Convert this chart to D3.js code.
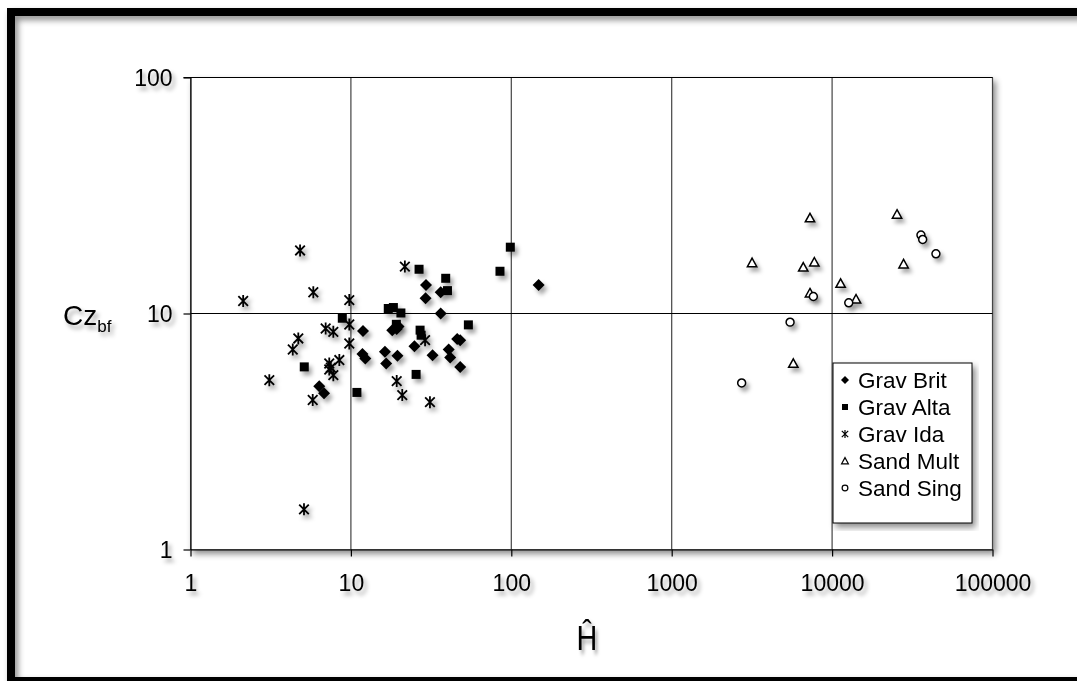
<!DOCTYPE html>
<html lang="en">
<head>
<meta charset="UTF-8">
<title>Cz_bf vs H</title>
<script src="https://cdn.jsdelivr.net/npm/d3@7"></script>
<style>
  body { margin: 0; background: #fff; }
  text { font-family: "Liberation Sans", Arial, sans-serif; fill: #000; }
</style>
</head>
<body>
<script>
// ---- data ----
const xTicks = [1, 10, 100, 1000, 10000, 100000];
const yTicks = [1, 10, 100];

const seriesNames = ["Grav Brit", "Grav Alta", "Grav Ida", "Sand Mult", "Sand Sing"];

const gravBrit = [
  [148, 13.2], [29.4, 13.2], [29.2, 11.6], [36.3, 12.3], [36.3, 10.0],
  [11.9, 8.44], [18.1, 8.5], [19.3, 8.6], [19.8, 8.8], [11.8, 6.73],
  [12.3, 6.45], [16.3, 6.88], [16.6, 6.14], [19.5, 6.62], [24.9, 7.27],
  [32.3, 6.66], [40.7, 7.04], [41.6, 6.51], [46, 7.79], [48, 7.7],
  [48, 5.94], [6.35, 4.92], [6.8, 4.59]
];
const gravAlta = [
  [98.6, 19.1], [85, 15.1], [26.6, 15.4], [39, 14.1], [40, 12.5],
  [17.1, 10.5], [18.4, 10.6], [20.5, 10.05], [8.84, 9.55], [19.2, 9.0],
  [27, 8.5], [27.4, 8.09], [54, 8.95], [25.5, 5.52], [10.9, 4.63],
  [5.12, 5.94]
];
const gravIda = [
  [4.82, 18.5], [2.13, 11.3], [5.83, 12.3], [9.77, 11.4], [9.77, 8.98],
  [9.77, 7.46], [6.96, 8.64], [7.77, 8.36], [4.7, 7.84], [4.34, 7.04],
  [8.47, 6.35], [7.33, 6.14], [7.33, 5.79], [7.77, 5.48], [3.1, 5.22],
  [5.78, 4.3], [21.7, 15.8], [29, 7.71], [19.3, 5.17], [20.9, 4.51],
  [31.1, 4.21], [5.1, 1.48], [7.5, 5.9]
];
const sandMult = [
  [7280, 25.4], [3170, 16.4], [6610, 15.7], [7750, 16.5], [7280, 12.2],
  [11300, 13.4], [14100, 11.5], [25400, 26.3], [27900, 16.2], [5730, 6.14]
];
const sandSing = [
  [35800, 21.5], [36700, 20.6], [44400, 17.9], [7640, 11.8], [12700, 11.1],
  [5470, 9.19], [2730, 5.08]
];

// ---- canvas ----
const W = 1077, H = 681;
const svg = d3.select("body").append("svg")
  .attr("width", W)
  .attr("height", H);

const defs = svg.append("defs");
defs.append("filter").attr("id", "shadow")
  .attr("x", "-50%").attr("y", "-50%").attr("width", "200%").attr("height", "200%")
  .append("feDropShadow")
  .attr("dx", 3).attr("dy", 4).attr("stdDeviation", 2)
  .attr("flood-color", "#000").attr("flood-opacity", 0.35);
defs.append("filter").attr("id", "frameShadow")
  .attr("x", "-5%").attr("y", "-5%").attr("width", "110%").attr("height", "110%")
  .append("feDropShadow")
  .attr("dx", 3).attr("dy", 4).attr("stdDeviation", 3)
  .attr("flood-color", "#000").attr("flood-opacity", 0.45);

// outer frame
svg.append("rect")
  .attr("x", 11).attr("y", 12)
  .attr("width", 1090).attr("height", 669)
  .attr("fill", "none")
  .attr("stroke", "#000")
  .attr("stroke-width", 8)
  .attr("filter", "url(#frameShadow)");

const x = d3.scaleLog().domain([1, 100000]).range([190.5, 992.5]);
const y = d3.scaleLog().domain([1, 100]).range([549.5, 77.5]);

// plot area box with shadow
svg.append("rect")
  .attr("x", x(1)).attr("y", y(100))
  .attr("width", x(100000) - x(1)).attr("height", y(1) - y(100))
  .attr("fill", "#fff")
  .attr("stroke", "#666")
  .attr("stroke-width", 1)
  .attr("filter", "url(#frameShadow)");

// grid
svg.append("g").selectAll("line")
  .data(xTicks.slice(1))
  .join("line")
  .attr("x1", d => x(d)).attr("x2", d => x(d))
  .attr("y1", y(100)).attr("y2", y(1))
  .attr("stroke", "#444").attr("stroke-width", 1.2);

svg.append("line")
  .attr("x1", x(1)).attr("x2", x(100000))
  .attr("y1", y(10)).attr("y2", y(10))
  .attr("stroke", "#000").attr("stroke-width", 1.2);

// axes
const xAxis = svg.append("g")
  .attr("transform", `translate(0,${y(1)})`)
  .call(d3.axisBottom(x).tickValues(xTicks).tickFormat(d3.format("d")).tickSize(7).tickSizeOuter(0));
const yAxis = svg.append("g")
  .attr("transform", `translate(${x(1)},0)`)
  .call(d3.axisLeft(y).tickValues(yTicks).tickFormat(d3.format("d")).tickSize(7).tickSizeOuter(0));

[xAxis, yAxis].forEach(g => {
  g.select(".domain").attr("stroke", "#000").attr("stroke-width", 1.2);
  g.selectAll(".tick line").attr("stroke", "#000").attr("stroke-width", 1.2);
  g.selectAll(".tick text")
    .style("font-family", "Liberation Sans, Arial, sans-serif")
    .style("font-size", "23px")
    .attr("fill", "#000")
    .attr("filter", "url(#shadow)");
});
xAxis.selectAll(".tick text").attr("y", 25).attr("dy", "0.71em");
yAxis.selectAll(".tick text").attr("x", -18).attr("dy", "0.36em");
// top edge line of plot
svg.append("line")
  .attr("x1", x(1) - 7).attr("x2", x(100000))
  .attr("y1", y(100)).attr("y2", y(100))
  .attr("stroke", "#000").attr("stroke-width", 1.2);

// axis titles
const yTitle = svg.append("text")
  .attr("x", 63).attr("y", 325)
  .attr("filter", "url(#shadow)")
  .style("font-size", "28px");
yTitle.append("tspan").text("Cz");
yTitle.append("tspan").attr("dy", 7).style("font-size", "17px").text("bf");

svg.append("text")
  .attr("transform", "translate(587,650) scale(0.8,1)")
  .attr("text-anchor", "middle")
  .attr("filter", "url(#shadow)")
  .style("font-size", "36px")
  .text("Ĥ");

// ---- markers ----
function markerPath(type, s) {
  const h = s / 2;
  const p = d3.path();
  if (type === "diamond") {
    p.moveTo(0, -h); p.lineTo(h, 0); p.lineTo(0, h); p.lineTo(-h, 0); p.closePath();
  } else if (type === "square") {
    p.rect(-h * 0.75, -h * 0.75, h * 1.5, h * 1.5);
  } else if (type === "star") {
    p.moveTo(-h * 0.8, -h * 0.8); p.lineTo(h * 0.8, h * 0.8);
    p.moveTo(-h * 0.8, h * 0.8); p.lineTo(h * 0.8, -h * 0.8);
    p.moveTo(0, -h); p.lineTo(0, h);
  } else if (type === "triangle") {
    p.moveTo(0, -h * 0.85); p.lineTo(h * 0.85, h * 0.7); p.lineTo(-h * 0.85, h * 0.7); p.closePath();
  } else {
    p.arc(0, 0, h * 0.72, 0, 2 * Math.PI);
  }
  return p.toString();
}

const series = [
  { name: seriesNames[0], data: gravBrit, type: "diamond", fill: "#000", stroke: "none", size: 12 },
  { name: seriesNames[1], data: gravAlta, type: "square", fill: "#000", stroke: "none", size: 12 },
  { name: seriesNames[2], data: gravIda, type: "star", fill: "none", stroke: "#000", size: 12 },
  { name: seriesNames[3], data: sandMult, type: "triangle", fill: "#fff", stroke: "#000", size: 11 },
  { name: seriesNames[4], data: sandSing, type: "circle", fill: "#fff", stroke: "#000", size: 11 }
];

series.forEach(s => {
  svg.append("g")
    .attr("filter", "url(#shadow)")
    .selectAll("path")
    .data(s.data)
    .join("path")
    .attr("transform", d => `translate(${x(d[0])},${y(d[1])})`)
    .attr("d", markerPath(s.type, s.size))
    .attr("fill", s.fill)
    .attr("stroke", s.stroke)
    .attr("stroke-width", s.type === "star" ? 1.8 : 1.5);
});

// ---- legend ----
const legend = svg.append("g").attr("transform", "translate(833,363)");
legend.append("rect")
  .attr("width", 139).attr("height", 160)
  .attr("fill", "#fff")
  .attr("stroke", "#000")
  .attr("stroke-width", 1)
  .attr("filter", "url(#frameShadow)");

const items = legend.selectAll(".legend-item")
  .data(series)
  .join("g")
  .attr("class", "legend-item")
  .attr("transform", (d, i) => `translate(0,${17 + i * 27})`);

items.append("path")
  .attr("transform", "translate(12,0)")
  .attr("d", d => markerPath(d.type, 8))
  .attr("fill", d => d.fill)
  .attr("stroke", d => d.stroke)
  .attr("stroke-width", 1.2);

items.append("text")
  .attr("x", 25).attr("y", 8)
  .style("font-size", "22.5px")
  .text(d => d.name);
</script>
</body>
</html>
